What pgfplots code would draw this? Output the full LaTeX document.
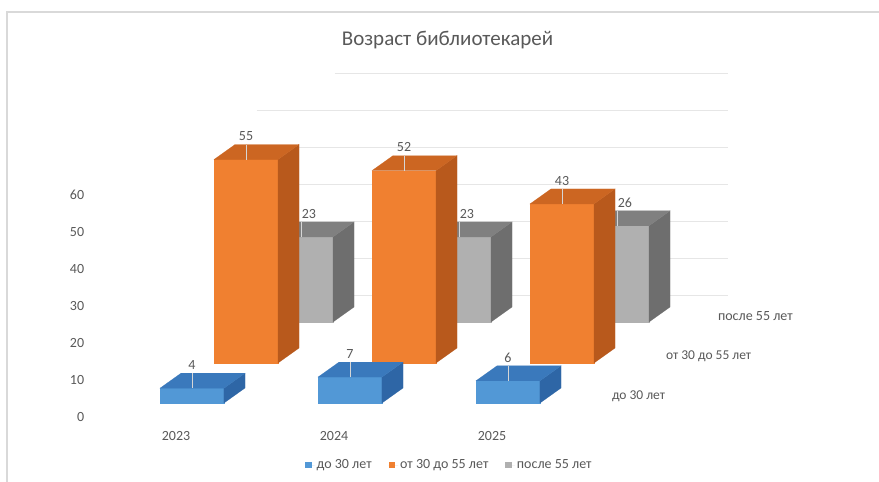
\documentclass[border=0pt]{standalone}
\usepackage{fontspec}
\setmainfont{Carlito}
\usepackage{pgfplots}
\usepackage{pgfplotstable}
\pgfplotsset{compat=1.18}

\definecolor{txt}{HTML}{595959}
\definecolor{framec}{HTML}{D9D9D9}
\definecolor{gridc}{HTML}{E6E6E6}
\definecolor{blueF}{HTML}{5298D6}
\definecolor{blueT}{HTML}{3A79BC}
\definecolor{blueS}{HTML}{2E66A6}
\definecolor{orangeF}{HTML}{F08030}
\definecolor{orangeT}{HTML}{CC6622}
\definecolor{orangeS}{HTML}{B8591C}
\definecolor{grayF}{HTML}{B0B0B0}
\definecolor{grayT}{HTML}{808080}
\definecolor{grayS}{HTML}{6E6E6E}
\definecolor{leader}{HTML}{D6D6D6}

% data
\pgfplotstableread{
year v
2023 4
2024 7
2025 6
}\young
\pgfplotstableread{
year v
2023 55
2024 52
2025 43
}\middle
\pgfplotstableread{
year v
2023 23
2024 23
2025 26
}\old

% geometry (data units)
\def\bw{0.405}
\def\ddx{0.133}
\def\ddy{4.05}

% #1 x0, #2 base, #3 value, #4 front, #5 top, #6 side, #7 label x shift
\newcommand{\cuboid}[7]{%
  \pgfmathsetmacro\xa{#1}%
  \pgfmathsetmacro\xb{#1+\bw}%
  \pgfmathsetmacro\xc{#1+\bw+\ddx}%
  \pgfmathsetmacro\xd{#1+\ddx}%
  \pgfmathsetmacro\ya{#2}%
  \pgfmathsetmacro\yb{#2+#3}%
  \pgfmathsetmacro\yc{#2+#3+\ddy}%
  \pgfmathsetmacro\yd{#2+\ddy}%
  \pgfmathsetmacro\xm{#1+\bw/2}%
  \pgfmathsetmacro\xl{#1+\bw/2+#7}%
  \addplot[forget plot, fill=#4, draw=#4, line width=0.2pt] coordinates {(\xa,\ya)(\xb,\ya)(\xb,\yb)(\xa,\yb)} -- cycle;
  \addplot[forget plot, fill=#6, draw=#6, line width=0.2pt] coordinates {(\xb,\ya)(\xc,\yd)(\xc,\yc)(\xb,\yb)} -- cycle;
  \addplot[forget plot, fill=#5, draw=#5, line width=0.2pt] coordinates {(\xa,\yb)(\xb,\yb)(\xc,\yc)(\xd,\yc)} -- cycle;
  \addplot[forget plot, draw=leader, line width=0.8pt] coordinates {(\xm,\yb)(\xm,\yc)};
  \addplot[forget plot, draw=none, mark=none, nodes near coords, point meta=explicit,
    every node near coord/.append style={anchor=south, text=txt, font=\fontsize{14}{16}\selectfont}]
    coordinates {(\xl,\yc) [#3]};
}

\begin{document}
\begin{tikzpicture}
\useasboundingbox (0pt,0pt) rectangle (879pt,482pt);
\fill[white] (0pt,0pt) rectangle (879pt,482pt);
\draw[framec, line width=1.2pt] (7pt,470pt) rectangle (900pt,-20pt);
\node[text=txt, font=\fontsize{21}{24}\selectfont] at (447.5pt,442pt) {Возраст библиотекарей};
\begin{axis}[
  anchor=origin, at={(192pt,79pt)},
  x=158pt, y=3.7pt,
  xmin=-0.66, xmax=3.7, ymin=-5, ymax=95,
  clip=false,
  /pgf/number format/assume math mode=true,
  axis line style={draw=none},
  tick style={draw=none},
  xtick={-0.101,0.899,1.899},
  xticklabels={2023,2024,2025},
  ytick={-3.78,6.22,16.22,26.22,36.22,46.22,56.22},
  yticklabels={0,10,20,30,40,50,60},
  xticklabel style={text=txt, font=\fontsize{14}{16}\selectfont, yshift=-6pt},
  yticklabel style={text=txt, font=\fontsize{14}{16}\selectfont},
  legend columns=3,
  legend style={at={(0.525,-0.1176)}, anchor=center, draw=none, fill=none,
    font=\fontsize{14}{16}\selectfont, text=txt,
    /tikz/every even column/.append style={column sep=15pt}},
  legend image code/.code={\fill[#1] (0pt,-3pt) rectangle (6.5pt,3.5pt); \path (0pt,0pt) -- (9.5pt,0pt);},
]
\addlegendimage{fill=blueF, draw=none}
\addlegendentry{до 30 лет}
\addlegendimage{fill=orangeF, draw=none}
\addlegendentry{от 30 до 55 лет}
\addlegendimage{fill=grayF, draw=none}
\addlegendentry{после 55 лет}

% back wall gridlines
\addplot[forget plot, draw=gridc, line width=0.9pt] coordinates {(0.411,29.19)(3.392,29.19)};
\addplot[forget plot, draw=gridc, line width=0.9pt] coordinates {(0.411,39.19)(3.392,39.19)};
\addplot[forget plot, draw=gridc, line width=0.9pt] coordinates {(0.411,49.19)(3.392,49.19)};
\addplot[forget plot, draw=gridc, line width=0.9pt] coordinates {(0.411,59.19)(3.392,59.19)};
\addplot[forget plot, draw=gridc, line width=0.9pt] coordinates {(0.411,69.19)(3.392,69.19)};
\addplot[forget plot, draw=gridc, line width=0.9pt] coordinates {(0.411,79.19)(3.392,79.19)};
\addplot[forget plot, draw=gridc, line width=0.9pt] coordinates {(0.905,89.19)(3.392,89.19)};

% gray row (back)
\pgfplotsinvokeforeach{0,1,2}{
  \pgfplotstablegetelem{#1}{v}\of\old
  \let\val\pgfplotsretval
  \cuboid{#1-0.2025+0.690}{21.89}{\val}{grayF}{grayT}{grayS}{0.05}
}
% orange row (middle)
\pgfplotsinvokeforeach{0,1,2}{
  \pgfplotstablegetelem{#1}{v}\of\middle
  \let\val\pgfplotsretval
  \cuboid{#1-0.2025+0.342}{10.81}{\val}{orangeF}{orangeT}{orangeS}{0}
}
% blue row (front)
\pgfplotsinvokeforeach{0,1,2}{
  \pgfplotstablegetelem{#1}{v}\of\young
  \let\val\pgfplotsretval
  \cuboid{#1-0.2025}{0}{\val}{blueF}{blueT}{blueS}{0}
}

% depth axis labels
\node[anchor=west, text=txt, font=\fontsize{14}{16}\selectfont] at (axis cs:3.307,23.51) {после 55 лет};
\node[anchor=west, text=txt, font=\fontsize{13.5}{16}\selectfont] at (axis cs:2.978,12.70) {от 30 до 55 лет};
\node[anchor=west, text=txt, font=\fontsize{13.5}{16}\selectfont] at (axis cs:2.636,1.89) {до 30 лет};
\end{axis}
\end{tikzpicture}
\end{document}
